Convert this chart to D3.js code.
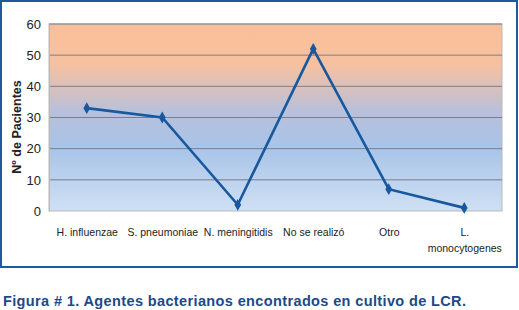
<!DOCTYPE html>
<html><head><meta charset="utf-8">
<script src="https://cdn.jsdelivr.net/npm/d3@7"></script>
<style>body{margin:0;background:#fff;} svg{display:block;}</style>
</head><body>
<svg id="c" width="519" height="310"></svg>
<script>
const categories = ["H. influenzae","S. pneumoniae","N. meningitidis","No se realizó","Otro","L. monocytogenes"];
const values = [33, 30, 2, 52, 7, 1];
const yTicks = [0,10,20,30,40,50,60];
const yTitle = "Nº de Pacientes";
const caption = "Figura # 1. Agentes bacterianos encontrados en cultivo de LCR.";

const svg = d3.select("#c");
const m = {left:49, right:502, top:24, bottom:211};
const x = d3.scalePoint().domain(categories).range([m.left, m.right]).padding(0.5);
const y = d3.scaleLinear().domain([0,60]).range([m.bottom, m.top]);

// outer border
svg.append("rect").attr("x",1).attr("y",1).attr("width",516).attr("height",266)
  .attr("fill","#fff").attr("stroke","#1f5aa0").attr("stroke-width",2);

const defs = svg.append("defs");
const g = defs.append("linearGradient").attr("id","bg").attr("x1",0).attr("y1",0).attr("x2",0).attr("y2",1);
g.append("stop").attr("offset","0%").attr("stop-color","#fbbf97");
g.append("stop").attr("offset","22%").attr("stop-color","#f6c1a0");
g.append("stop").attr("offset","47%").attr("stop-color","#b8c0dc");
g.append("stop").attr("offset","66%").attr("stop-color","#a8c4e8");
g.append("stop").attr("offset","100%").attr("stop-color","#cfe0f4");

svg.append("rect").attr("x",m.left).attr("y",m.top).attr("width",m.right-m.left).attr("height",m.bottom-m.top)
  .attr("fill","url(#bg)").attr("stroke","#b9b9b9").attr("stroke-width",1);

// grid
svg.append("g").selectAll("line").data(yTicks.filter(d=>d>0)).join("line")
  .attr("x1",m.left).attr("x2",m.right).attr("y1",d=>y(d)).attr("y2",d=>y(d))
  .attr("stroke","#7d7d88").attr("stroke-width",1);

// y axis
const ya = svg.append("g").attr("transform",`translate(${m.left},0)`)
  .call(d3.axisLeft(y).tickValues(yTicks).tickSize(0).tickPadding(8));
ya.select(".domain").attr("stroke","#b9b9b9");
ya.selectAll("text").attr("font-family","Liberation Sans, Arial, sans-serif").attr("font-size",13).attr("fill","#222");

// x labels
const xa = svg.append("g").attr("transform",`translate(0,${m.bottom})`)
  .call(d3.axisBottom(x).tickSize(0).tickPadding(0));
xa.select(".domain").remove();
xa.selectAll("text").each(function(d){
  const t = d3.select(this);
  t.text(null).attr("font-family","Liberation Sans, Arial, sans-serif").attr("font-size",10.5).attr("fill","#222")
   .attr("y",0).attr("dy",null);
  if (d === "L. monocytogenes") {
    t.append("tspan").attr("x",0).attr("y",25).text("L.");
    t.append("tspan").attr("x",0).attr("y",41).text("monocytogenes");
  } else {
    t.append("tspan").attr("x",0).attr("y",25).text(d);
  }
});

svg.append("text").attr("transform","translate(21,127) rotate(-90)").attr("text-anchor","middle")
  .attr("font-family","Liberation Sans, Arial, sans-serif").attr("font-weight","bold").attr("font-size",12.5)
  .attr("fill","#222").text(yTitle);

// line
const line = d3.line().x((d,i)=>x(categories[i])).y(d=>y(d));
svg.append("path").datum(values).attr("d",line).attr("fill","none")
  .attr("stroke","#17589f").attr("stroke-width",2.6).attr("stroke-linejoin","miter");
svg.append("g").selectAll("path").data(values).join("path")
  .attr("d",d3.symbol(d3.symbolDiamond,40)())
  .attr("transform",(d,i)=>`translate(${x(categories[i])},${y(d)})`)
  .attr("fill","#17589f");

svg.append("text").attr("x",3).attr("y",306).attr("font-family","Liberation Sans, Arial, sans-serif")
  .attr("font-weight","bold").attr("font-size",14.5).attr("fill","#1c4a88")
  .attr("textLength",463).attr("lengthAdjust","spacing").text(caption);
</script>
</body></html>
